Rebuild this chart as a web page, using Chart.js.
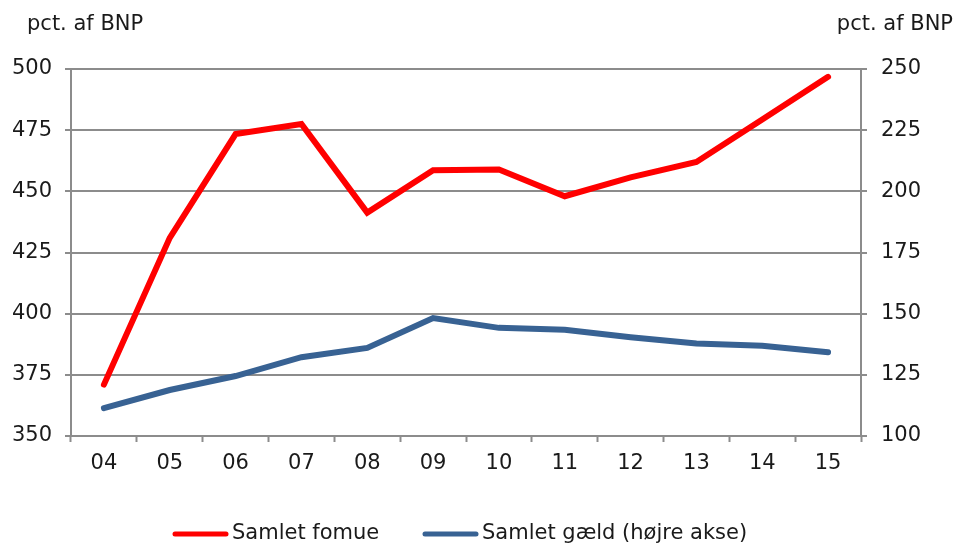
<!DOCTYPE html>
<html>
<head>
<meta charset="utf-8">
<script src="https://cdn.jsdelivr.net/npm/chart.js@4/dist/chart.umd.min.js"></script>
<style>
  html, body { margin: 0; padding: 0; background: #fff; }
  #wrap { width: 955px; height: 545px; }
</style>
</head>
<body>
<div id="wrap"><canvas id="line_chart" width="955" height="545"></canvas></div>
<script>
// ---------------- data ----------------
var years = ['04','05','06','07','08','09','10','11','12','13','14','15'];
var fomue = [371, 431, 473.4, 477.5, 441.3, 458.6, 458.9, 448, 455.7, 462, 479.4, 496.8];
var gaeld = [111.4, 118.8, 124.5, 132.2, 136, 148.2, 144.2, 143.4, 140.4, 137.8, 136.9, 134.2];
var seriesNames = ['Samlet fomue', 'Samlet gæld (højre akse)'];
var axisTitle = 'pct. af BNP';

var FONT = 'DejaVu Sans';
var FSIZE = 21;
var GRID = '#8c8c8c';
var TXT = '#1a1a1a';
var RED = '#ff0000';
var BLUE = '#386293';

// axis titles above the plot + legend under the x axis
var extras = {
    id: 'extras',
    afterDraw: function (chart) {
        var ctx = chart.ctx;
        ctx.save();
        ctx.font = FSIZE + 'px "' + FONT + '"';
        ctx.fillStyle = TXT;
        ctx.textBaseline = 'middle';
        ctx.textAlign = 'left';
        ctx.fillText(axisTitle, 27, 25);
        ctx.textAlign = 'right';
        ctx.fillText(axisTitle, 953, 25);

        // legend
        var ly = 534;
        var items = [
            { x: 175, color: RED, text: seriesNames[0] },
            { x: 425, color: BLUE, text: seriesNames[1] }
        ];
        items.forEach(function (it) {
            ctx.strokeStyle = it.color;
            ctx.lineWidth = 5;
            ctx.lineCap = 'round';
            ctx.beginPath();
            ctx.moveTo(it.x, ly);
            ctx.lineTo(it.x + 51, ly);
            ctx.stroke();
            ctx.fillStyle = TXT;
            ctx.textAlign = 'left';
            ctx.fillText(it.text, it.x + 57, ly);
        });
        ctx.restore();
    }
};

const CHART = document.getElementById('line_chart');
let lineChart = new Chart(CHART, {
    type: 'line',
    data: {
        labels: years,
        datasets: [
            {
                label: seriesNames[0],
                data: fomue,
                borderColor: RED,
                backgroundColor: RED,
                borderWidth: 6,
                pointRadius: 0,
                tension: 0,
                borderCapStyle: 'round',
                yAxisID: 'y'
            },
            {
                label: seriesNames[1],
                data: gaeld,
                borderColor: BLUE,
                backgroundColor: BLUE,
                borderWidth: 6,
                pointRadius: 0,
                tension: 0,
                borderCapStyle: 'round',
                yAxisID: 'y2'
            }
        ]
    },
    options: {
        responsive: false,
        animation: false,
        layout: { padding: { top: 69, left: 0, right: 0, bottom: 0 } },
        plugins: {
            tooltip: { enabled: false },
            legend: { display: false }
        },
        scales: {
            x: {
                offset: true,
                grid: {
                    offset: true,
                    drawOnChartArea: false,
                    tickLength: 6,
                    tickWidth: 2,
                    color: GRID
                },
                border: { color: GRID, width: 2 },
                ticks: { font: { family: FONT, size: FSIZE }, color: TXT, padding: 9 },
                afterFit: function (s) { s.height = 109; }
            },
            y: {
                position: 'left',
                min: 350, max: 500,
                ticks: { stepSize: 25, font: { family: FONT, size: FSIZE }, color: TXT, padding: 13 },
                grid: { color: GRID, lineWidth: 2, tickLength: 6 },
                border: { color: GRID, width: 2 },
                afterFit: function (s) { s.width = 71; }
            },
            y2: {
                position: 'right',
                min: 100, max: 250,
                ticks: { stepSize: 25, font: { family: FONT, size: FSIZE }, color: TXT, padding: 14 },
                grid: { drawOnChartArea: false, color: GRID, lineWidth: 2, tickLength: 6 },
                border: { color: GRID, width: 2 },
                afterFit: function (s) { s.width = 94; }
            }
        }
    },
    plugins: [extras]
});
</script>
</body>
</html>
